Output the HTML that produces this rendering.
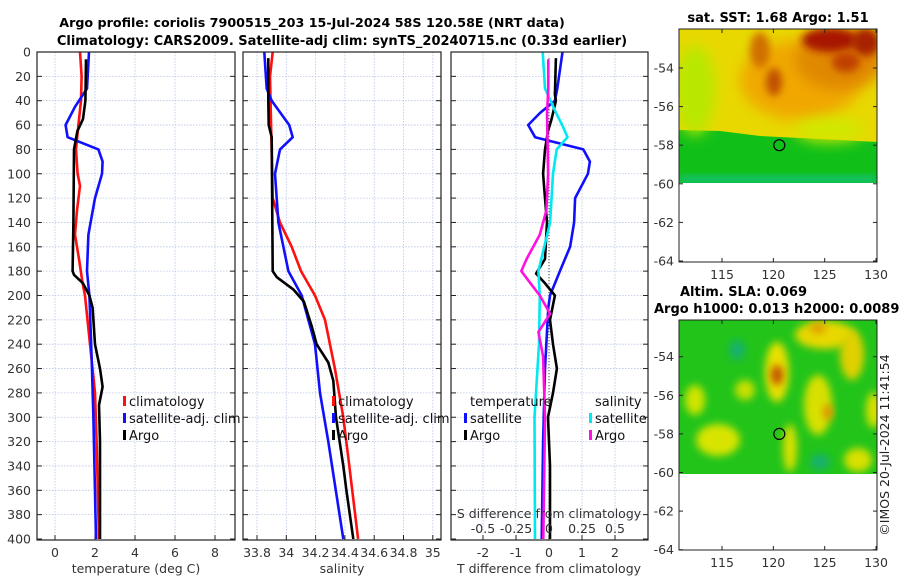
<!DOCTYPE html>
<html><head><meta charset="utf-8"><style>
html,body{margin:0;padding:0;background:#fff;}
svg{display:block;font-family:"DejaVu Sans","Liberation Sans",sans-serif;}
.t{font-size:12.5px;fill:#333;}
.b{font-size:13px;font-weight:bold;fill:#000;}
.l{font-size:13px;fill:#111;}
</style></head><body>
<svg id="fig" width="900" height="580" viewBox="0 0 900 580">
<defs>
<filter id="bl" x="-50%" y="-50%" width="200%" height="200%"><feGaussianBlur stdDeviation="7"/></filter>
<filter id="bl2" x="-50%" y="-50%" width="200%" height="200%"><feGaussianBlur stdDeviation="4"/></filter>
<clipPath id="c1"><rect x="679" y="29" width="198" height="154"/></clipPath>
<clipPath id="c2"><rect x="679" y="320" width="198" height="154"/></clipPath>
</defs>
<text class="b" x="312" y="27" text-anchor="middle" style="font-size:12.7px">Argo profile: coriolis 7900515_203 15-Jul-2024 58S 120.58E (NRT data)</text>
<text class="b" x="342" y="45" text-anchor="middle">Climatology: CARS2009. Satellite-adj clim: synTS_20240715.nc (0.33d earlier)</text>

<g>
<text class="b" x="778" y="22" text-anchor="middle">sat. SST: 1.68 Argo: 1.51</text>
<g clip-path="url(#c1)">
<rect x="679" y="29" width="198" height="154" fill="#10c018"/>
<rect x="679" y="176" width="198" height="7" fill="#18c080" filter="url(#bl2)"/>
<path d="M679 29 H877 V142 L840 140 L800 138 L760 136 L720 131 L679 130 Z" fill="#e8d800"/>
<ellipse cx="695" cy="90" rx="20" ry="45" fill="#b8e800" filter="url(#bl)"/>
<ellipse cx="800" cy="80" rx="60" ry="40" fill="#f0a800" filter="url(#bl)"/>
<ellipse cx="840" cy="60" rx="45" ry="30" fill="#e08800" filter="url(#bl)"/>
<ellipse cx="830" cy="40" rx="28" ry="12" fill="#a81800" filter="url(#bl2)"/>
<ellipse cx="866" cy="42" rx="14" ry="14" fill="#a82000" filter="url(#bl2)"/>
<ellipse cx="846" cy="62" rx="14" ry="10" fill="#c04000" filter="url(#bl2)"/>
<ellipse cx="774" cy="82" rx="8" ry="14" fill="#c05000" filter="url(#bl2)"/>
<ellipse cx="760" cy="50" rx="10" ry="18" fill="#d07000" filter="url(#bl2)"/>
<ellipse cx="830" cy="130" rx="35" ry="12" fill="#d0e800" filter="url(#bl)"/>
</g>
<rect x="679" y="183" width="198" height="3" fill="#fff"/>
</g>

<g>
<text class="b" x="680" y="296">Altim. SLA: 0.069</text>
<text class="b" x="654" y="313">Argo h1000: 0.013 h2000: 0.0089</text>
<g clip-path="url(#c2)">
<rect x="679" y="320" width="198" height="154" fill="#22c41a"/>
<ellipse cx="737" cy="350" rx="8" ry="10" fill="#18b070" filter="url(#bl2)"/>
<ellipse cx="820" cy="462" rx="10" ry="8" fill="#18b070" filter="url(#bl2)"/>
<ellipse cx="777" cy="372" rx="12" ry="30" fill="#e8e000" filter="url(#bl2)"/>
<ellipse cx="777" cy="375" rx="6" ry="10" fill="#c05000" filter="url(#bl2)"/>
<ellipse cx="825" cy="335" rx="30" ry="14" fill="#e8d800" filter="url(#bl2)"/>
<ellipse cx="818" cy="328" rx="8" ry="6" fill="#e0a000" filter="url(#bl2)"/>
<ellipse cx="852" cy="355" rx="12" ry="25" fill="#e0d000" filter="url(#bl2)"/>
<ellipse cx="818" cy="405" rx="14" ry="30" fill="#d8e000" filter="url(#bl2)"/>
<ellipse cx="828" cy="412" rx="5" ry="8" fill="#e09000" filter="url(#bl2)"/>
<ellipse cx="718" cy="440" rx="22" ry="16" fill="#d8e400" filter="url(#bl2)"/>
<ellipse cx="695" cy="400" rx="10" ry="15" fill="#d0e400" filter="url(#bl2)"/>
<ellipse cx="790" cy="448" rx="7" ry="24" fill="#d8e000" filter="url(#bl2)"/>
<ellipse cx="858" cy="460" rx="14" ry="12" fill="#d8e000" filter="url(#bl2)"/>
<ellipse cx="874" cy="410" rx="8" ry="18" fill="#d8e000" filter="url(#bl2)"/>
<ellipse cx="745" cy="390" rx="10" ry="10" fill="#c8e000" filter="url(#bl2)"/>
</g>
</g>
<text x="889" y="445" font-size="12.5" fill="#222" text-anchor="middle" transform="rotate(-90 889 445)">©IMOS 20-Jul-2024 11:41:54</text>
<g id="dyn"></g>
</svg>
<script>
// ---- data ----
const depthTicks=[0,20,40,60,80,100,120,140,160,180,200,220,240,260,280,300,320,340,360,380,400];
const tempTicks=[0,2,4,6,8];
const salTicks=[33.8,34,34.2,34.4,34.6,34.8,35];
const salTickLabels=["33.8","34","34.2","34.4","34.6","34.8","35"];
const tdTicks=[-2,-1,0,1,2];
const sdTicks=[-0.5,-0.25,0,0.25,0.5];
const sdTickLabels=["-0.5","-0.25","0","0.25","0.5"];
const latTicks=[-54,-56,-58,-60,-62,-64];
const lonTicks=[115,120,125,130];
const argoLon=120.58, argoLat=-58;

const tClimDepth=[0,20,40,60,80,100,110,130,150,170,190,200,240,280,320,400];
const tClimVal=[1.25,1.33,1.3,1.17,1.05,1.13,1.25,1.1,1.0,1.2,1.38,1.5,1.75,2.0,2.08,2.2];
const tSatDepth=[0,30,45,60,70,80,90,100,120,150,180,200,250,300,400];
const tSatVal=[1.7,1.6,1.0,0.53,0.63,2.17,2.38,2.35,2.0,1.67,1.6,1.72,1.83,1.92,2.05];
const tArgoDepth=[6,40,55,65,80,140,180,183,190,200,210,240,260,275,290,320,400];
const tArgoVal=[1.55,1.52,1.4,1.12,0.95,0.92,0.88,0.95,1.4,1.72,1.88,2.0,2.25,2.38,2.2,2.25,2.25];

const sClimDepth=[0,20,120,140,160,180,200,220,260,300,340,400];
const sClimVal=[33.907,33.889,33.907,33.957,34.037,34.1,34.196,34.264,34.332,34.389,34.43,34.49];
const sSatDepth=[0,30,40,60,70,80,100,140,180,200,240,280,320,400];
const sSatVal=[33.85,33.866,33.9,34.02,34.044,33.957,33.923,33.946,34.014,34.105,34.196,34.23,34.287,34.389];
const sArgoDepth=[5,40,60,70,180,185,195,205,225,240,255,270,300,340,360,400];
const sArgoVal=[33.877,33.877,33.88,33.9,33.907,33.935,34.048,34.12,34.173,34.207,34.287,34.321,34.339,34.389,34.41,34.457];

const dtSatDepth=[0,30,40,50,60,70,80,90,100,120,140,160,180,200,210,260,320,400];
const dtSatVal=[0.41,0.25,0.18,-0.27,-0.63,-0.42,1.04,1.24,1.18,0.79,0.76,0.64,0.33,0.03,-0.02,-0.12,-0.18,-0.22];
const dtArgoDepth=[5,35,40,55,65,80,100,120,140,170,182,190,200,220,240,260,280,300,340,400];
const dtArgoVal=[0.21,0.18,0.21,0.08,-0.03,-0.12,-0.18,-0.12,-0.06,-0.12,-0.39,-0.12,0.18,0.03,0.12,0.24,0.12,-0.03,0.03,0.03];
const dsSatDepth=[0,30,50,60,70,80,100,140,180,200,240,300,400];
const dsSatVal=[-0.048,-0.03,0.053,0.1,0.14,0.058,0.03,0.008,-0.08,-0.07,-0.076,-0.11,-0.106];
const dsArgoDepth=[6,30,50,100,130,150,170,180,190,200,215,230,250,300,400];
const dsArgoVal=[-0.005,-0.005,-0.015,-0.007,-0.02,-0.07,-0.17,-0.21,-0.14,-0.07,0.008,-0.08,-0.045,-0.03,-0.043];

// ---- axes ----
const Y0=52, PXM=1.2175;
const yD=d=>Y0+d*PXM;
const xT=v=>55+v*20;
const xS=v=>257+(v-33.8)*146.5;
const xTD=v=>549+v*33;
const xSD=v=>549+v*132;
const mapX=lon=>722+(lon-115)*10.27;
const map1Y=lat=>68+(-54-lat)*19.3;
const map2Y=lat=>356.7+(-54-lat)*19.3;

const NS="http://www.w3.org/2000/svg";
const root=document.getElementById('dyn');
function mk(tag,attrs,parent){const e=document.createElementNS(NS,tag);for(const k in attrs)e.setAttribute(k,attrs[k]);(parent||root).appendChild(e);return e;}
function txt(x,y,s,cls,anchor,parent){const e=mk('text',{x:x,y:y,class:cls,'text-anchor':anchor||'middle'},parent);e.textContent=s;return e;}

const panels=[{x:37,w:198,name:'temperature-panel'},{x:243,w:198,name:'salinity-panel'},{x:451,w:197,name:'difference-panel'}];
const PB=540;
panels.forEach(p=>{
  const g=mk('g',{});
  
  
  p.g=g;
  depthTicks.forEach(d=>{
    if(d>0&&d<400){const l=mk('line',{x1:p.x,x2:p.x+p.w,y1:yD(d),y2:yD(d),stroke:'#b8c4e8','stroke-width':0.8,'stroke-dasharray':'1.5,1.5'},g);
    
    }
    mk('line',{x1:p.x,x2:p.x+5,y1:yD(d),y2:yD(d),stroke:'#222'},g);
    mk('line',{x1:p.x+p.w-5,x2:p.x+p.w,y1:yD(d),y2:yD(d),stroke:'#222'},g);
  });
});
function vgrid(p,vals,fx){vals.forEach(v=>{const x=fx(v);
  const l=mk('line',{x1:x,x2:x,y1:Y0,y2:PB,stroke:'#b8c4e8','stroke-width':0.8,'stroke-dasharray':'1.5,1.5'},p.g);
  
  
  mk('line',{x1:x,x2:x,y1:PB-5,y2:PB,stroke:'#222'},p.g);});}
vgrid(panels[0],tempTicks,xT);
vgrid(panels[1],salTicks,xS);
vgrid(panels[2],tdTicks,xTD);
depthTicks.forEach(d=>{const t=txt(31,yD(d)+4.5,String(d),'t','end');
  
  });
tempTicks.forEach(v=>{const t=txt(xT(v),557,String(v),'t');
  
  });
salTicks.forEach((v,i)=>{const t=txt(xS(v),557,salTickLabels[i],'t');
  
  });
tdTicks.forEach(v=>{const t=txt(xTD(v),557,String(v),'t');
  
  });
sdTicks.forEach((v,i)=>{const t=txt(xSD(v),533,sdTickLabels[i],'t');
  
  });
let a=txt(136,573,'temperature (deg C)','t');


a=txt(342,573,'salinity','t');


a=txt(549,573,'T difference from climatology','t');


a=txt(549,518,'S difference from climatology','t');



const zl=mk('line',{x1:xTD(0),x2:xTD(0),y1:yD(5),y2:PB,stroke:'#333','stroke-width':1,'stroke-dasharray':'1,2'},panels[2].g);



function series(p,depths,vals,fx,color,name){
  const pts=depths.map((d,i)=>fx(vals[i]).toFixed(1)+','+yD(d).toFixed(1)).join(' ');
  const e=mk('polyline',{points:pts,fill:'none',stroke:color,'stroke-width':2.6,'stroke-linejoin':'round'},p.g);
  
  
}
series(panels[0],tClimDepth,tClimVal,xT,'#ff1010','temperature-climatology-line');
series(panels[0],tSatDepth,tSatVal,xT,'#1010ff','temperature-satellite-line');
series(panels[0],tArgoDepth,tArgoVal,xT,'#000','temperature-argo-line');
series(panels[1],sClimDepth,sClimVal,xS,'#ff1010','salinity-climatology-line');
series(panels[1],sSatDepth,sSatVal,xS,'#1010ff','salinity-satellite-line');
series(panels[1],sArgoDepth,sArgoVal,xS,'#000','salinity-argo-line');
series(panels[2],dtSatDepth,dtSatVal,xTD,'#1010ff','t-diff-satellite-line');
series(panels[2],dtArgoDepth,dtArgoVal,xTD,'#000','t-diff-argo-line');
series(panels[2],dsSatDepth,dsSatVal,xSD,'#00e8f0','s-diff-satellite-line');
series(panels[2],dsArgoDepth,dsArgoVal,xSD,'#ff10e0','s-diff-argo-line');

panels.forEach(p=>{mk('rect',{x:p.x,y:Y0,width:p.w,height:PB-Y0,fill:'none',stroke:'#222','stroke-width':1.2},p.g);});

function leg(x,y,color,label,g){
  const lg=mk('g',{},g);
  
  
  mk('rect',{x:x-6,y:y-10,width:3,height:10,fill:color},lg);
  txt(x,y,label,'l','start',lg);
}
leg(129,406,'#ff1010','climatology',panels[0].g);
leg(129,423,'#1010ff','satellite-adj. clim',panels[0].g);
leg(129,440,'#000','Argo',panels[0].g);
leg(338,406,'#ff1010','climatology',panels[1].g);
leg(338,423,'#1010ff','satellite-adj. clim',panels[1].g);
leg(338,440,'#000','Argo',panels[1].g);
a=txt(470,406,'temperature','l','start',panels[2].g);


leg(470,423,'#1010ff','satellite',panels[2].g);
leg(470,440,'#000','Argo',panels[2].g);
a=txt(595,406,'salinity','l','start',panels[2].g);


leg(595,423,'#00e8f0','satellite',panels[2].g);
leg(595,440,'#ff10e0','Argo',panels[2].g);

function mapAxes(top,bot,fy,name){
  const g=mk('g',{});
  
  
  mk('rect',{x:679,y:top,width:198,height:bot-top,fill:'none',stroke:'#222','stroke-width':1},g);
  latTicks.forEach(l=>{const y=fy(l);
    mk('line',{x1:679,x2:683,y1:y,y2:y,stroke:'#222'},g);
    mk('line',{x1:873,x2:877,y1:y,y2:y,stroke:'#222'},g);
    const t=txt(674,y+4.5,String(l),'t','end',g);
    
    });
  lonTicks.forEach(l=>{const x=mapX(l);
    mk('line',{x1:x,x2:x,y1:bot-4,y2:bot,stroke:'#222'},g);
    mk('line',{x1:x,x2:x,y1:top,y2:top+4,stroke:'#222'},g);
    const t=txt(x,bot+17,String(l),'t','middle',g);
    
    });
  const c=mk('circle',{cx:mapX(argoLon),cy:fy(argoLat),r:5.5,fill:'none',stroke:'#000','stroke-width':1.2},g);
  
  
}
mapAxes(29,262,map1Y,'sst-map-axes');
mapAxes(320,550,map2Y,'sla-map-axes');
</script>
</body></html>
